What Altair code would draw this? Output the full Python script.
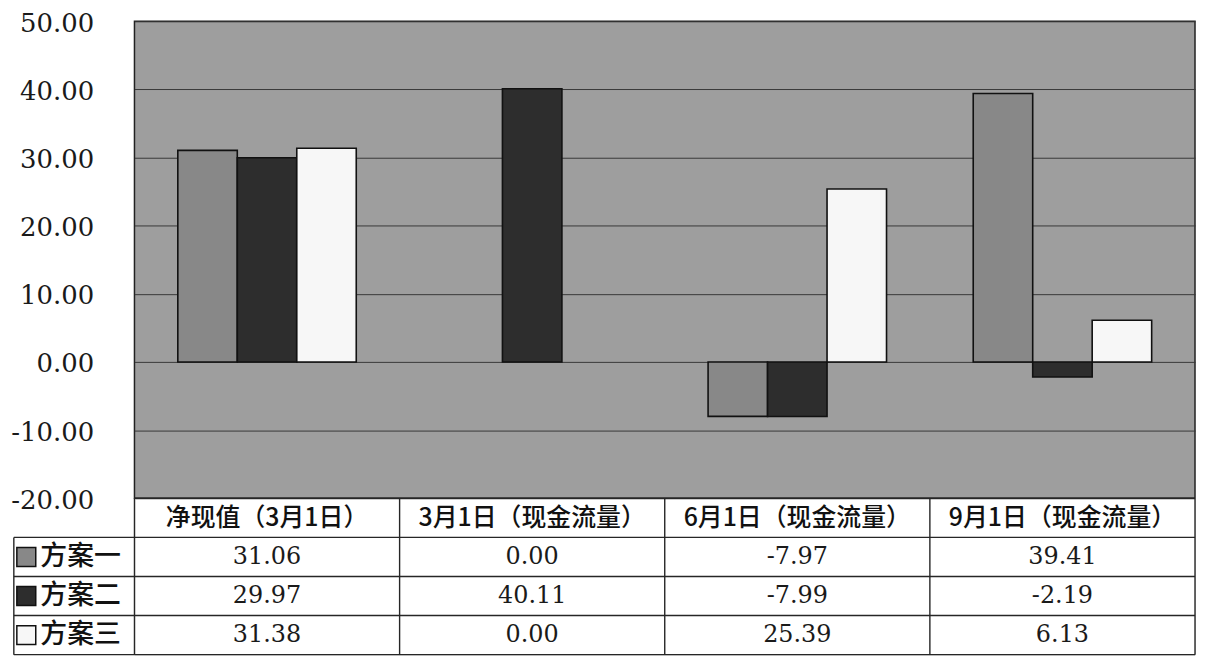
import altair as alt
import pandas as pd

# ---- data ----
categories = ["净现值（3月1日）", "3月1日（现金流量）", "6月1日（现金流量）", "9月1日（现金流量）"]
series = ["方案一", "方案二", "方案三"]
plan1 = [31.06, 0.00, -7.97, 39.41]
plan2 = [29.97, 40.11, -7.99, -2.19]
plan3 = [31.38, 0.00, 25.39, 6.13]
y_ticks = [-20, -10, 0, 10, 20, 30, 40, 50]
colors = ["#888888", "#2d2d2d", "#f7f7f7"]

values = [plan1, plan2, plan3]
rows = []
for si, s in enumerate(series):
    for ci, c in enumerate(categories):
        v = values[si][ci]
        rows.append({"category": c, "cat_idx": ci, "series": s, "ser_idx": si,
                     "value": v, "label": f"{v:.2f}"})
df = pd.DataFrame(rows)

W = 1065
H_BAR = 479
H_TAB = 157
n_cols = len(categories)
n_rows = len(series) + 1
LABEL_X0 = -0.455

color_scale = alt.Scale(domain=series, range=colors)

# ---- bar chart ----
bars = alt.Chart(df).mark_bar(stroke="#111").encode(
    x=alt.X("category:N", sort=categories, axis=None,
            scale=alt.Scale(paddingInner=0.327, paddingOuter=0.1635)),
    xOffset=alt.XOffset("series:N", sort=series,
                        scale=alt.Scale(paddingInner=0, paddingOuter=0)),
    y=alt.Y("value:Q",
            scale=alt.Scale(domain=[-20, 50], nice=False, zero=False),
            axis=alt.Axis(values=y_ticks, format=".2f",
                          labelExpr="replace(datum.label, '\u2212', '-')",
                          title=None, ticks=False, domain=False, grid=True,
                          gridColor="#383838", gridWidth=1,
                          labelFont="DejaVu Serif", labelFontSize=26,
                          labelColor="#1a1a1a", labelPadding=41,
                          labelOffset=2)),
    color=alt.Color("series:N", scale=color_scale, legend=None),
    strokeWidth=alt.condition("datum.value == 0", alt.value(0), alt.value(1.6)),
).properties(width=W, height=H_BAR,
             view=alt.ViewBackground(fill="#9e9e9e", stroke="#222", strokeWidth=1.5))

# ---- data table ----
xs = alt.Scale(domain=[0, n_cols], nice=False, zero=False)
ys = alt.Scale(domain=[0, n_rows], nice=False, zero=False, reverse=True)

lines = []
for r in range(1, n_rows + 1):
    lines.append({"x": LABEL_X0, "x2": n_cols, "y": r, "y2": r})
lines.append({"x": 0, "x2": n_cols, "y": 0, "y2": 0})
for c in range(0, n_cols + 1):
    lines.append({"x": c, "x2": c, "y": 0, "y2": n_rows})
lines.append({"x": LABEL_X0, "x2": LABEL_X0, "y": 1, "y2": n_rows})
lines_df = pd.DataFrame(lines)

hdr_df = pd.DataFrame({"text": categories,
                       "x": [i + 0.5 for i in range(n_cols)],
                       "y": [0.5] * n_cols})
cell_df = df.assign(x=df["cat_idx"] + 0.5, y=df["ser_idx"] + 1.5)
lab_df = pd.DataFrame({"series": series,
                       "y": [i + 1.5 for i in range(len(series))]})
lab_df["xs"] = LABEL_X0 + 0.047
lab_df["xt"] = LABEL_X0 + 0.1

rules = alt.Chart(lines_df).mark_rule(color="#262626", strokeWidth=1.4).encode(
    x=alt.X("x:Q", scale=xs, axis=None), x2="x2:Q",
    y=alt.Y("y:Q", scale=ys, axis=None), y2="y2:Q")

header = alt.Chart(hdr_df).mark_text(font="Noto Sans CJK SC", fontSize=25,
                                     fontWeight=500, color="#111").encode(
    x=alt.X("x:Q", scale=xs, axis=None),
    y=alt.Y("y:Q", scale=ys, axis=None),
    text="text:N")

cells = alt.Chart(cell_df).mark_text(font="DejaVu Serif", fontSize=24,
                                     color="#1a1a1a").encode(
    x=alt.X("x:Q", scale=xs, axis=None),
    y=alt.Y("y:Q", scale=ys, axis=None),
    text="label:N")

swatch = alt.Chart(lab_df).mark_point(shape="square", filled=True, size=361,
                                      stroke="#111", strokeWidth=1.5,
                                      opacity=1).encode(
    x=alt.X("xs:Q", scale=xs, axis=None),
    y=alt.Y("y:Q", scale=ys, axis=None),
    fill=alt.Fill("series:N", scale=color_scale, legend=None))

labels = alt.Chart(lab_df).mark_text(font="Noto Sans CJK SC", fontSize=27,
                                     fontWeight=500, align="left",
                                     color="#111").encode(
    x=alt.X("xt:Q", scale=xs, axis=None),
    y=alt.Y("y:Q", scale=ys, axis=None),
    text="series:N")

table = alt.layer(rules, header, cells, swatch, labels).properties(
    width=W, height=H_TAB)

chart = alt.vconcat(bars, table, spacing=0, bounds="flush").properties(
    padding={"top": 0, "left": 2, "right": 0, "bottom": 0}
).configure_view(strokeWidth=0).configure(background="white")

chart.save("out.html", embed_options={"renderer": "svg", "actions": False})
